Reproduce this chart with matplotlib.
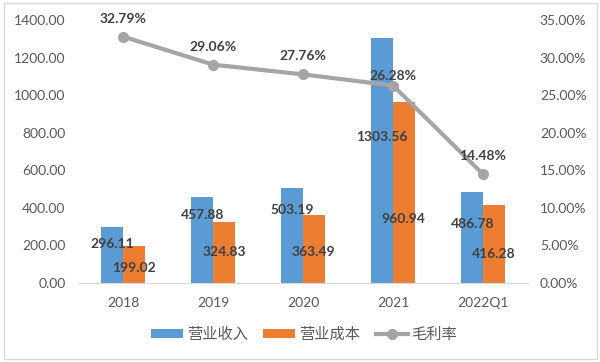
import matplotlib
matplotlib.use("Agg")
import matplotlib.pyplot as plt
import numpy as np
from matplotlib.patches import Rectangle

plt.rcParams['font.family'] = ['Lato', 'Noto Sans CJK SC', 'DejaVu Sans']

categories = ['2018', '2019', '2020', '2021', '2022Q1']
revenue = [296.11, 457.88, 503.19, 1303.56, 486.78]
cost = [199.02, 324.83, 363.49, 960.94, 416.28]
margin = [32.79, 29.06, 27.76, 26.28, 14.48]
# label heights (data units) as placed in the reference
rev_label_y = [208, 362, 389, 777, 314]
cost_label_y = [80, 165, 165, 340, 154]
margin_label_off = [18, 18, 18, 10, 18]

blue = '#5B9BD5'
orange = '#ED7D31'
gray = '#A5A5A5'
txt = '#404040'
tick_c = '#595959'

fig = plt.figure(figsize=(6.0, 3.62), dpi=100)
fig.patches.append(Rectangle((0.007, 0.008), 0.988, 0.985, transform=fig.transFigure,
                             fill=False, edgecolor='#D9D9D9', linewidth=1))
ax = fig.add_axes([0.13, 0.2182, 0.75, 0.7266])
x = np.arange(len(categories))
w = 0.24
ax.bar(x - w/2, revenue, w, color=blue, label='营业收入', zorder=2)
ax.bar(x + w/2, cost, w, color=orange, label='营业成本', zorder=2)
ax.set_xlim(-0.5, len(categories) - 0.5)
ax.set_ylim(0, 1400)
ax.set_yticks(np.arange(0, 1401, 200))
ax.set_yticklabels([f'{v:.2f}' for v in np.arange(0, 1401, 200)])
ax.set_xticks(x)
ax.set_xticklabels(categories)
for s in ['top', 'right', 'left']:
    ax.spines[s].set_visible(False)
ax.spines['bottom'].set_color('#D9D9D9')
ax.tick_params(axis='both', length=0, colors=tick_c, labelsize=10)
ax.tick_params(axis='y', pad=9)
ax.tick_params(axis='x', pad=10)

for i in range(len(categories)):
    ax.text(x[i] - w/2, rev_label_y[i], f'{revenue[i]:.2f}', ha='center', va='center',
            fontsize=10, fontweight='bold', color=txt, zorder=5)
    ax.text(x[i] + w/2, cost_label_y[i], f'{cost[i]:.2f}', ha='center', va='center',
            fontsize=10, fontweight='bold', color=txt, zorder=5)

ax2 = ax.twinx()
ax2.plot(x, margin, color=gray, linewidth=3, marker='o', markersize=7, label='毛利率', zorder=3)
ax2.set_ylim(0, 35)
ax2.set_yticks(np.arange(0, 36, 5))
ax2.set_yticklabels([f'{v:.2f}%' for v in np.arange(0, 36, 5)])
for s in ['top', 'right', 'left', 'bottom']:
    ax2.spines[s].set_visible(False)
ax2.tick_params(axis='y', length=0, colors=tick_c, labelsize=10, pad=8.5)
for i in range(len(categories)):
    ax2.annotate(f'{margin[i]:.2f}%', (x[i], margin[i]), xytext=(0, margin_label_off[i]*0.72),
                 textcoords='offset points', ha='center', va='center',
                 fontsize=10, fontweight='bold', color=txt, zorder=6)

h1, l1 = ax.get_legend_handles_labels()
h2, l2 = ax2.get_legend_handles_labels()
fig.legend(h1 + h2, l1 + l2, loc='center', bbox_to_anchor=(0.507, 0.075), ncol=3,
           frameon=False, fontsize=11, labelcolor=tick_c, handlelength=2.1,
           handleheight=0.55, columnspacing=1.0, handletextpad=0.25)

fig.savefig('out.png', dpi=100)
